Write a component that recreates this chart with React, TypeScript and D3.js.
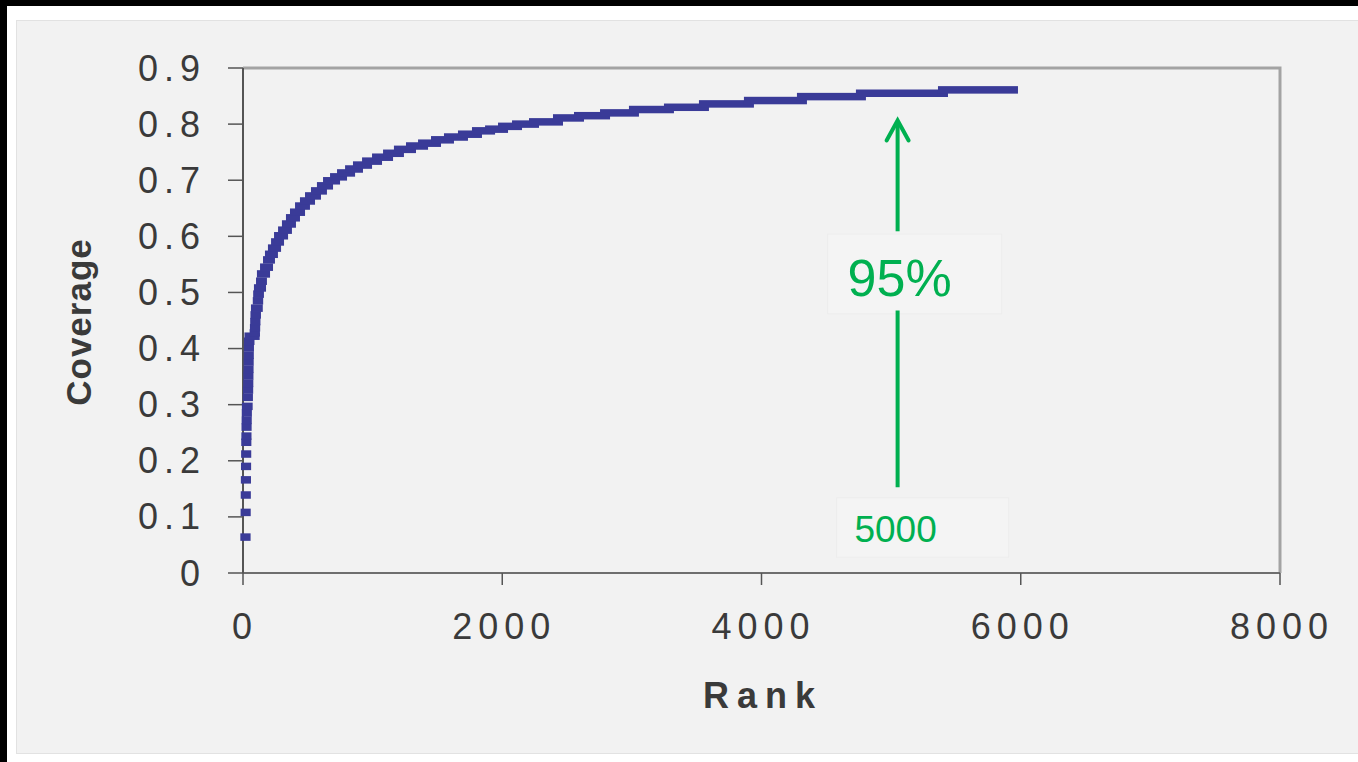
import React, { useRef, useEffect } from "react";
import * as d3 from "d3";

// step start ranks and their coverage
const ranks = [
  18, 20, 21, 22, 23, 24, 25, 26, 27, 28, 29, 30,
  36, 38, 40, 41, 42, 43, 44, 45, 46, 50,
  90, 92, 94, 96, 100, 114, 117, 123, 139, 146,
  170, 193, 208, 231, 255, 278, 309, 339, 370, 401, 440, 478, 517, 563, 609, 656,
  710, 764, 826, 887, 957, 1034, 1119, 1203, 1296, 1389, 1489, 1589, 1697, 1805,
  1906, 2006, 2114, 2245, 2430, 2592, 2793,
  3016, 3286, 3556, 3903, 4312, 4767, 5400,
];
const coverage = [
  0.064, 0.108, 0.139, 0.166, 0.19, 0.212, 0.233, 0.244, 0.26, 0.272, 0.285, 0.297,
  0.313, 0.326, 0.338, 0.351, 0.363, 0.376, 0.388, 0.401, 0.413, 0.422,
  0.428, 0.437, 0.448, 0.46, 0.472, 0.485, 0.497, 0.508, 0.52, 0.533,
  0.545, 0.558, 0.568, 0.579, 0.59, 0.601, 0.611, 0.622, 0.633, 0.643, 0.654, 0.663, 0.672, 0.681, 0.69, 0.699,
  0.706, 0.713, 0.72, 0.727, 0.734, 0.741, 0.748, 0.755, 0.761, 0.766, 0.772, 0.777, 0.782, 0.788,
  0.791, 0.796, 0.8, 0.804, 0.811, 0.815, 0.82,
  0.826, 0.83, 0.836, 0.842, 0.849, 0.855, 0.861,
];
const lastRank = 5940;

const xTicks = [0, 2000, 4000, 6000, 8000];
const xTickLabels = ["0", "2000", "4000", "6000", "8000"];
const yTicks = [0, 0.1, 0.2, 0.3, 0.4, 0.5, 0.6, 0.7, 0.8, 0.9];
const yTickLabels = ["0", "0.1", "0.2", "0.3", "0.4", "0.5", "0.6", "0.7", "0.8", "0.9"];

// annotation
const markRank = 5050;
const arrowFrom = 0.153;
const arrowTo = 0.81;
const bigLabel = "95%";
const smallLabel = "5000";

const W = 1358;
const H = 762;

export default function App() {
  const svgRef = useRef<SVGSVGElement>(null);

  useEffect(() => {
    if (!svgRef.current) return;
    const svg = d3.select(svgRef.current);
    svg.selectAll("*").remove();

    const margin = { left: 243, right: 78, top: 68, bottom: 189 };
    const x = d3.scaleLinear().domain([0, 8000]).range([margin.left, W - margin.right]);
    const y = d3.scaleLinear().domain([0, 0.9]).range([H - margin.bottom, margin.top]);

    // frame
    svg.append("rect").attr("width", W).attr("height", H).attr("fill", "#ffffff");
    svg.append("rect").attr("width", W).attr("height", 6).attr("fill", "#000");
    svg.append("rect").attr("width", 7).attr("height", H).attr("fill", "#000");
    svg.append("rect")
      .attr("x", 16.5).attr("y", 20.5)
      .attr("width", W - 16).attr("height", 733)
      .attr("fill", "#f2f2f2").attr("stroke", "#e2e2e2");

    const font = "Arial, 'Liberation Sans', sans-serif";

    // plot border (top/right)
    svg.append("path")
      .attr("d", `M${x(0)},${y(0.9)}H${x(8000)}V${y(0)}`)
      .attr("fill", "none").attr("stroke", "#a3a3a3").attr("stroke-width", 3);

    // axes
    svg.append("line")
      .attr("x1", x(0)).attr("x2", x(8000)).attr("y1", y(0)).attr("y2", y(0))
      .attr("stroke", "#6e6e6e").attr("stroke-width", 2);
    svg.append("line")
      .attr("x1", x(0)).attr("x2", x(0)).attr("y1", y(0.9)).attr("y2", y(0))
      .attr("stroke", "#555").attr("stroke-width", 2);

    yTicks.forEach((t, i) => {
      svg.append("line")
        .attr("x1", x(0) - 15).attr("x2", x(0)).attr("y1", y(t)).attr("y2", y(t))
        .attr("stroke", "#555").attr("stroke-width", 1.5);
      svg.append("text")
        .attr("x", x(0) - 43 + 6).attr("y", y(t))
        .attr("text-anchor", "end").attr("dominant-baseline", "central")
        .attr("font-family", font).attr("font-size", 36).attr("letter-spacing", 6)
        .attr("fill", "#3a3a3a").text(yTickLabels[i]);
    });
    xTicks.forEach((t, i) => {
      svg.append("line")
        .attr("x1", x(t)).attr("x2", x(t)).attr("y1", y(0)).attr("y2", y(0) + 12)
        .attr("stroke", "#555").attr("stroke-width", 1.5);
      svg.append("text")
        .attr("x", x(t) + 2).attr("y", y(0) + 66)
        .attr("text-anchor", "middle")
        .attr("font-family", font).attr("font-size", 36).attr("letter-spacing", 6)
        .attr("fill", "#3a3a3a").text(xTickLabels[i]);
    });

    svg.append("text")
      .attr("x", 763).attr("y", 708)
      .attr("text-anchor", "middle")
      .attr("font-family", font).attr("font-size", 36).attr("font-weight", "bold")
      .attr("letter-spacing", 8).attr("fill", "#3a3a3a").text("Rank");
    svg.append("text")
      .attr("transform", "translate(91,322) rotate(-90)")
      .attr("text-anchor", "middle")
      .attr("font-family", font).attr("font-size", 35).attr("font-weight", "bold")
      .attr("letter-spacing", 1).attr("fill", "#3a3a3a").text("Coverage");

    // coverage steps (dash markers merged into stair steps)
    const half = 5;
    svg.append("g").selectAll("rect")
      .data(ranks.map((r, i) => ({ r, c: coverage[i], end: i + 1 < ranks.length ? ranks[i + 1] : lastRank })))
      .enter().append("rect")
      .attr("x", (d) => x(d.r) - half)
      .attr("width", (d) => x(d.end) - x(d.r) + half * 2)
      .attr("y", (d) => y(d.c) - 3.75)
      .attr("height", 7.5)
      .attr("fill", "#3a3b98");

    // annotation
    const green = "#00b050";
    const ax = x(markRank);
    svg.append("rect")
      .attr("x", ax - 70).attr("y", y(0.604)).attr("width", 174).attr("height", y(0.462) - y(0.604))
      .attr("fill", "#f4f4f4").attr("stroke", "#ededed");
    svg.append("rect")
      .attr("x", ax - 61).attr("y", y(0.134)).attr("width", 172).attr("height", y(0.028) - y(0.134))
      .attr("fill", "#f4f4f4").attr("stroke", "#ededed");
    svg.append("line")
      .attr("x1", ax).attr("x2", ax).attr("y1", y(arrowFrom)).attr("y2", y(0.468))
      .attr("stroke", green).attr("stroke-width", 4);
    svg.append("line")
      .attr("x1", ax).attr("x2", ax).attr("y1", y(0.609)).attr("y2", y(arrowTo) + 3)
      .attr("stroke", green).attr("stroke-width", 4);
    svg.append("path")
      .attr("d", `M${ax - 11},${y(arrowTo) + 22}L${ax},${y(arrowTo) + 2}L${ax + 11},${y(arrowTo) + 22}`)
      .attr("fill", "none").attr("stroke", green).attr("stroke-width", 4)
      .attr("stroke-linecap", "round").attr("stroke-linejoin", "miter");
    svg.append("text")
      .attr("x", ax + 2).attr("y", y(0.494))
      .attr("text-anchor", "middle")
      .attr("font-family", font).attr("font-size", 52).attr("fill", green).text(bigLabel);
    svg.append("text")
      .attr("x", ax - 2).attr("y", y(0.055))
      .attr("text-anchor", "middle")
      .attr("font-family", font).attr("font-size", 37).attr("fill", green).text(smallLabel);
  }, []);

  return (
    <div>
      <style>{`body{margin:0}`}</style>
      <svg ref={svgRef} width={W} height={H} style={{ display: "block" }} />
    </div>
  );
}
